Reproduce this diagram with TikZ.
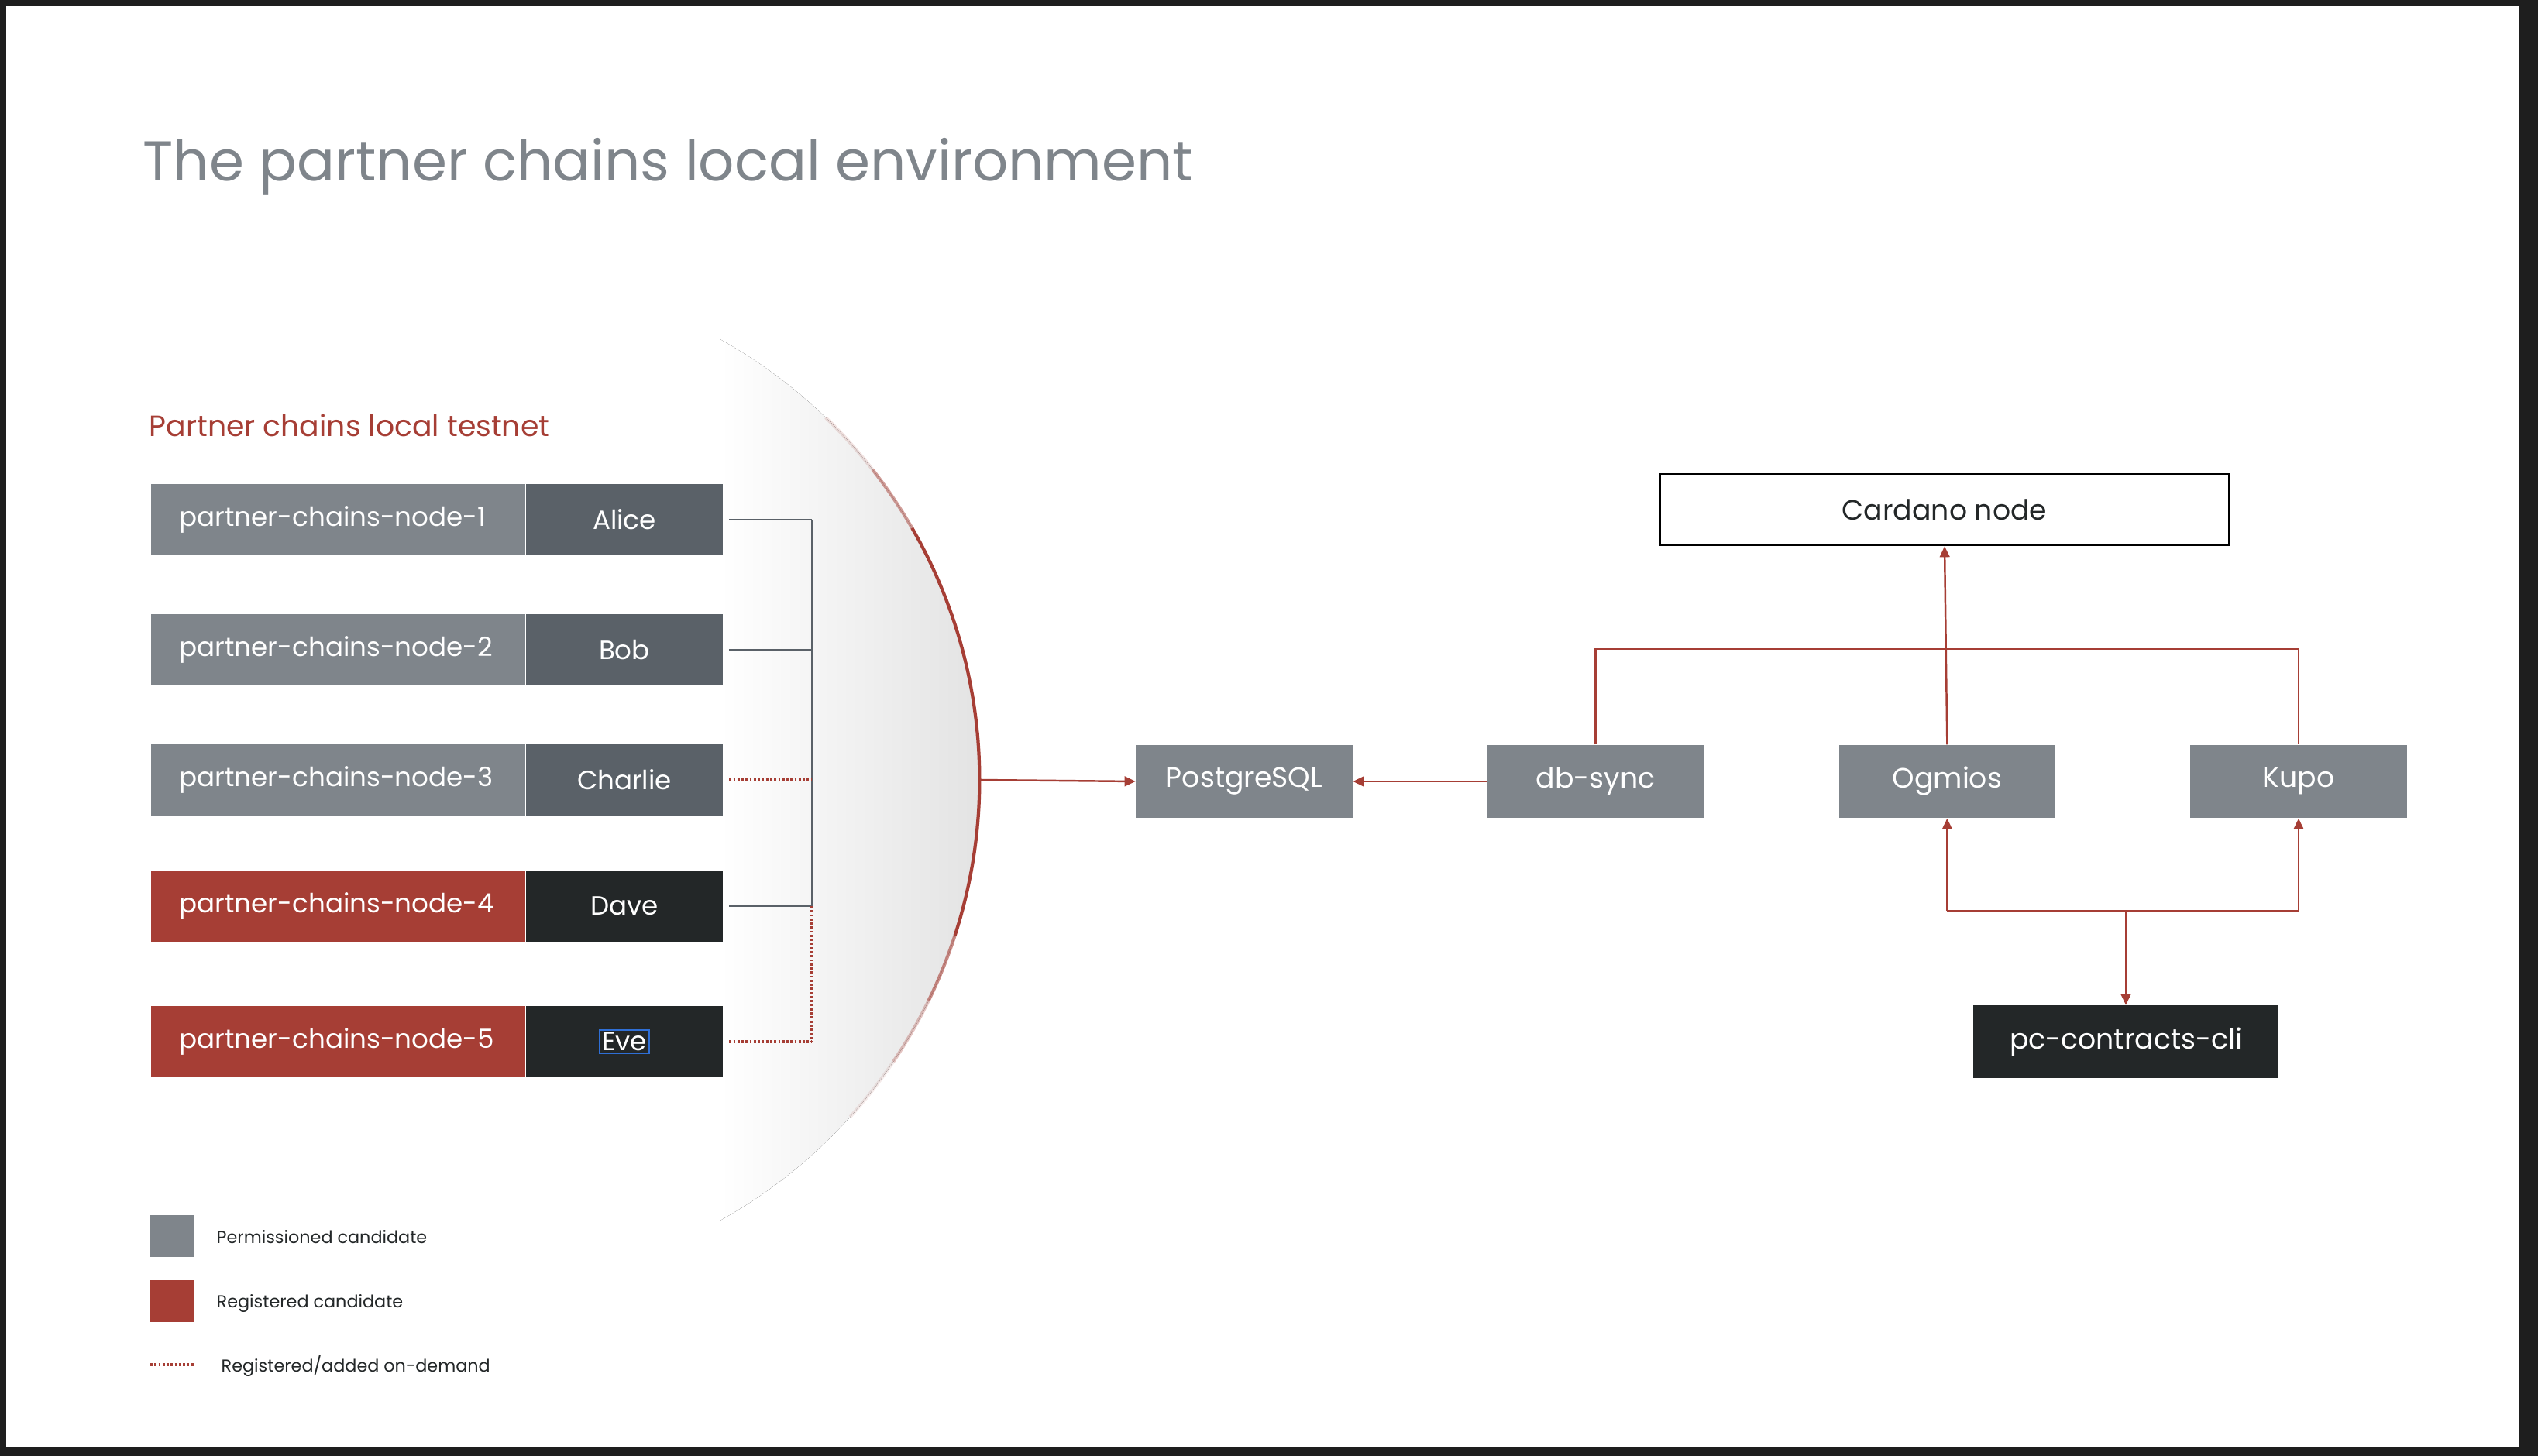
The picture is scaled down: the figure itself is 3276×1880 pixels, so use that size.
\documentclass[tikz,border=0pt]{standalone}
\usepackage{fontspec}
\setmainfont{Poppins}
\usetikzlibrary{positioning,arrows.meta}

\definecolor{pcgray}{HTML}{7F858B}
\definecolor{pcslate}{HTML}{5A6168}
\definecolor{pcred}{HTML}{A63E35}
\definecolor{pcdark}{HTML}{232728}
\definecolor{pcframe}{HTML}{1E1E1E}
\definecolor{pcselect}{HTML}{2F6FD6}

\newcommand\titlesize{\fontsize{20.6}{24}\selectfont}
\newcommand\rowsize{\fontsize{9.7}{12}\selectfont}
\newcommand\boxsize{\fontsize{10.3}{12}\selectfont}
\newcommand\headsize{\fontsize{10.75}{13}\selectfont}
\newcommand\keysize{\fontsize{6.35}{8}\selectfont}

\tikzset{
  hostbox/.style={anchor=west, minimum height=0.92cm, inner xsep=0.37cm, inner ysep=0pt,
    text width=4.09cm, align=left, text=white, font=\rowsize},
  namebox/.style={minimum width=2.53cm, minimum height=0.92cm, inner sep=0pt, text=white, font=\rowsize},
  svcbox/.style={fill=pcgray, minimum width=2.79cm, minimum height=0.94cm, inner sep=0pt,
    text=white, font=\boxsize},
  keybox/.style={minimum width=0.57cm, minimum height=0.54cm, inner sep=0pt},
  keytext/.style={anchor=base west, inner sep=0pt, font=\keysize, text=pcdark},
  wire/.style={draw=pcslate, line width=0.6pt},
  ondemand/.style={draw=pcred, line width=0.9pt, dash pattern=on 0.8pt off 0.7pt},
  feed/.style={draw=pcred, line width=0.7pt},
  flow/.style={feed, -{Triangle[length=4pt,width=3.6pt]}},
}

\begin{document}
\begin{tikzpicture}[x=0.01cm, y=-0.01cm]
 \useasboundingbox (0,0) rectangle (3276,1880);

 % slide frame
 \fill[pcframe] (0,0) rectangle (3276,1880);
 \fill[white] (8,8) rectangle (3252,1869);

 \node[anchor=base west, inner sep=0pt, font=\titlesize, text=pcgray] (title) at (184,234)
   {The partner chains local environment};

 % shaded bulge behind the testnet
 \begin{scope}
  \clip (614,1007) circle (6.5cm);
  \fill[left color=white, right color=black!11] (930,340) rectangle (1266,1680);
 \end{scope}
 \draw[pcred, line width=1.2pt, opacity=0.15] (614,1007) ++(46:6.5cm) arc[start angle=46, end angle=38, radius=6.5cm];
 \draw[pcred, line width=1.2pt, opacity=0.5] (614,1007) ++(38:6.5cm) arc[start angle=38, end angle=30, radius=6.5cm];
 \draw[pcred, line width=1.2pt] (614,1007) ++(30:6.5cm) arc[start angle=30, end angle=-18, radius=6.5cm];
 \draw[pcred, line width=1.2pt, opacity=0.6] (614,1007) ++(-18:6.5cm) arc[start angle=-18, end angle=-26, radius=6.5cm];
 \draw[pcred, line width=1.2pt, opacity=0.3] (614,1007) ++(-26:6.5cm) arc[start angle=-26, end angle=-34, radius=6.5cm];
 \draw[pcred, line width=1.2pt, opacity=0.1] (614,1007) ++(-34:6.5cm) arc[start angle=-34, end angle=-42, radius=6.5cm];
 \coordinate (bulge) at (1264,1007);

 % local testnet
 \node[anchor=base west, inner sep=0pt, font=\headsize, text=pcred] (testnet) at (192,564)
   {Partner chains local testnet};

 \node[hostbox, fill=pcgray] (host1) at (194,671) {\mbox{partner-chains-node-1}};
 \node[namebox, fill=pcslate, right=0pt of host1] (alice) {Alice};

 \node[hostbox, fill=pcgray] (host2) at (194,839) {\mbox{partner-chains-node-2}};
 \node[namebox, fill=pcslate, right=0pt of host2] (bob) {Bob};

 \node[hostbox, fill=pcgray] (host3) at (194,1007) {\mbox{partner-chains-node-3}};
 \node[namebox, fill=pcslate, right=0pt of host3] (charlie) {Charlie};

 \node[hostbox, fill=pcred] (host4) at (194,1170) {\mbox{partner-chains-node-4}};
 \node[namebox, fill=pcdark, right=0pt of host4] (dave) {Dave};

 \node[hostbox, fill=pcred] (host5) at (194,1345) {\mbox{partner-chains-node-5}};
 \node[namebox, fill=pcdark, right=0pt of host5] (eve)
   {\setlength{\fboxsep}{0.6pt}\setlength{\fboxrule}{0.5pt}\fcolorbox{pcselect}{pcdark}{Eve}};

 % testnet bus
 \coordinate (busx) at (1048,0);
 \draw[wire] ([xshift=0.08cm]alice.east) -- (alice.east -| busx);
 \draw[wire] ([xshift=0.08cm]bob.east) -- (bob.east -| busx);
 \draw[wire] ([xshift=0.08cm]dave.east) -- (dave.east -| busx);
 \draw[wire] (alice.east -| busx) -- (dave.east -| busx);
 \draw[ondemand] ([xshift=0.08cm]charlie.east) -- (charlie.east -| busx);
 \draw[ondemand] ([xshift=0.08cm]eve.east) -- (eve.east -| busx);
 \draw[ondemand] (dave.east -| busx) -- (eve.east -| busx);

 % cardano side
 \node[svcbox] (pg) at (1606,1009) {PostgreSQL};
 \node[svcbox, right=1.73cm of pg] (dbsync) {db-sync};
 \node[svcbox, right=1.73cm of dbsync] (ogmios) {Ogmios};
 \node[svcbox, right=1.73cm of ogmios] (kupo) {Kupo};
 \node[draw=black, line width=0.7pt, fill=white, minimum width=7.34cm, minimum height=0.92cm,
   inner sep=0pt, font=\boxsize, text=pcdark] (cardano) at (2510,658) {Cardano node};
 \node[svcbox, fill=pcdark, minimum width=3.93cm, minimum height=0.93cm] (pccli) at (2744,1345)
   {pc-contracts-cli};

 \draw[flow] (bulge) -- (pg.west);
 \draw[flow] (dbsync.west) -- (pg.east);

 \coordinate (topbus) at (0,838);
 \draw[feed] (dbsync.north) -- (dbsync.north |- topbus) -- (kupo.north |- topbus) -- (kupo.north);
 \draw[flow] (ogmios.north) -- (cardano.south);

 \coordinate (lowbus) at (0,1176);
 \draw[feed] (ogmios.south |- lowbus) -- (kupo.south |- lowbus);
 \draw[flow] (ogmios.south |- lowbus) -- (ogmios.south);
 \draw[flow] (kupo.south |- lowbus) -- (kupo.south);
 \draw[flow] (pccli.north |- lowbus) -- (pccli.north);

 % legend
 \node[keybox, fill=pcgray] (keyperm) at (222,1596) {};
 \node[keybox, fill=pcred] (keyreg) at (222,1680) {};
 \coordinate (keydot) at (194,1762);
 \draw[ondemand] (keydot) -- ++(57,0);
 \node[keytext] (permtext) at (279,1605) {Permissioned candidate};
 \node[keytext] (regtext) at (279,1688) {Registered candidate};
 \node[keytext] (dottext) at (285,1771) {Registered/added on-demand};

\end{tikzpicture}
\end{document}
